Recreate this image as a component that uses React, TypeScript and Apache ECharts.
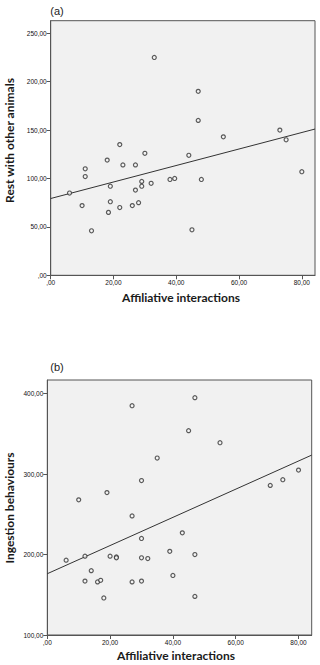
import React, { useEffect, useRef } from "react";
import * as echarts from "echarts";

// ---- data ----
const X_TICKS = [0, 20, 40, 60, 80];
const REST_Y_TICKS = [0, 50, 100, 150, 200, 250];
const INGEST_Y_TICKS = [100, 200, 300, 400];

const X_MAX = 84.2;
const REST_MIN = 0;
const REST_MAX = 263;
const INGEST_MIN = 100;
const INGEST_MAX = 417;

const affiliativeA = [33, 47, 47, 55, 73, 75, 22, 30, 18, 23, 27, 44, 11, 80, 11, 6, 19, 27, 29, 29, 32, 38, 39.5, 48, 10, 19, 18.4, 22, 26, 28, 13, 45];
const restWithOthers = [225, 190, 160, 143, 150, 140, 135, 126, 119, 114, 114, 124, 110, 107, 102, 85, 92, 88, 97, 92, 95, 99, 100, 99, 72, 76, 65, 70, 72, 75, 46, 47];

const affiliativeB = [27, 47, 45, 55, 35, 30, 19, 71, 75, 80, 10, 27, 43, 30, 6, 12, 20, 22, 22, 30, 32, 39, 47, 14, 12, 16, 17, 27, 30, 40, 18, 47];
const ingestion = [385, 395, 354, 339, 320, 292, 277, 286, 293, 305, 268, 248, 227, 220, 193, 198, 198, 197, 196, 196, 195, 204, 200, 180, 167, 166, 168, 166, 167, 174, 146, 148];

const PANEL_LABELS = ["(a)", "(b)"];
const X_NAME = "Affiliative interactions";
const Y_NAMES = ["Rest with other animals", "Ingestion behaviours"];

function fit(xs: number[], ys: number[]) {
  const n = xs.length;
  const mx = xs.reduce((a, b) => a + b, 0) / n;
  const my = ys.reduce((a, b) => a + b, 0) / n;
  let sxy = 0, sxx = 0;
  for (let i = 0; i < n; i++) {
    sxy += (xs[i] - mx) * (ys[i] - my);
    sxx += (xs[i] - mx) * (xs[i] - mx);
  }
  const slope = sxy / sxx;
  return { slope, intercept: my - slope * mx };
}

const fmt = (v: number) => (v === 0 ? ",00" : `${Math.round(v)},00`);

export default function App() {
  const ref = useRef<HTMLDivElement>(null);
  useEffect(() => {
    if (!ref.current) return;
    const chart = echarts.init(ref.current, null, { renderer: "svg" });
    const fa = fit(affiliativeA, restWithOthers);
    const fb = fit(affiliativeB, ingestion);
    const tickFont = { fontFamily: "Liberation Sans", fontSize: 6.5, color: "#111" };
    const axisLine = { show: true, lineStyle: { color: "#555", width: 1 } };
    const axisTick = { show: true, length: 4, lineStyle: { color: "#555", width: 1 } };
    const nameStyle = { fontFamily: "Lato", fontWeight: "bold", fontSize: 12, fill: "#1a1a1a" };
    const xAxisBase = (gi: number) => ({
      type: "value",
      gridIndex: gi,
      min: 0,
      max: X_MAX,
      axisLine,
      axisTick: { ...axisTick, customValues: X_TICKS },
      axisLabel: { ...tickFont, margin: 4, customValues: X_TICKS, formatter: fmt },
      splitLine: { show: false },
    });
    const scatterStyle = {
      type: "scatter",
      symbol: "circle",
      symbolSize: 4,
      itemStyle: { color: "#f6f6f6", borderColor: "#333", borderWidth: 1.2 },
      z: 3,
    };
    const lineStyle = {
      type: "line",
      showSymbol: false,
      symbol: "none",
      lineStyle: { color: "#333", width: 1 },
      z: 2,
    };
    chart.setOption({
      animation: false,
      grid: [
        { left: 50.7, top: 20.7, width: 264.3, height: 254.6, show: true, backgroundColor: "#f1f1f1", borderColor: "#555", borderWidth: 1 },
        { left: 47.3, top: 380, width: 264.4, height: 255, show: true, backgroundColor: "#f1f1f1", borderColor: "#555", borderWidth: 1 },
      ],
      xAxis: [xAxisBase(0), xAxisBase(1)],
      yAxis: [
        {
          type: "value", gridIndex: 0, min: REST_MIN, max: REST_MAX,
          axisLine, axisTick: { ...axisTick, customValues: REST_Y_TICKS },
          axisLabel: { ...tickFont, margin: 4, customValues: REST_Y_TICKS, formatter: fmt },
          splitLine: { show: false },
        },
        {
          type: "value", gridIndex: 1, min: INGEST_MIN, max: INGEST_MAX,
          axisLine, axisTick: { ...axisTick, customValues: INGEST_Y_TICKS },
          axisLabel: { ...tickFont, margin: 4, customValues: INGEST_Y_TICKS, formatter: fmt },
          splitLine: { show: false },
        },
      ],
      series: [
        { ...lineStyle, xAxisIndex: 0, yAxisIndex: 0, data: [[0, fa.intercept], [X_MAX, fa.intercept + fa.slope * X_MAX]] },
        { ...scatterStyle, xAxisIndex: 0, yAxisIndex: 0, data: affiliativeA.map((x, i) => [x, restWithOthers[i]]) },
        { ...lineStyle, xAxisIndex: 1, yAxisIndex: 1, data: [[0, fb.intercept], [X_MAX, fb.intercept + fb.slope * X_MAX]] },
        { ...scatterStyle, xAxisIndex: 1, yAxisIndex: 1, data: affiliativeB.map((x, i) => [x, ingestion[i]]) },
      ],
      graphic: [
        { type: "text", x: 57, y: 10.5, style: { text: PANEL_LABELS[0], fontFamily: "Liberation Sans", fontSize: 11, fill: "#222", textAlign: "center", textVerticalAlign: "middle" } },
        { type: "text", x: 57, y: 367, style: { text: PANEL_LABELS[1], fontFamily: "Liberation Sans", fontSize: 11, fill: "#222", textAlign: "center", textVerticalAlign: "middle" } },
        { type: "text", x: 181, y: 297.7, style: { ...nameStyle, text: X_NAME, textAlign: "center", textVerticalAlign: "middle" } },
        { type: "text", x: 176, y: 655.7, style: { ...nameStyle, text: X_NAME, textAlign: "center", textVerticalAlign: "middle" } },
        { type: "text", x: 9.5, y: 140.5, rotation: Math.PI / 2, style: { ...nameStyle, text: Y_NAMES[0], textAlign: "center", textVerticalAlign: "middle" } },
        { type: "text", x: 9.5, y: 508, rotation: Math.PI / 2, style: { ...nameStyle, text: Y_NAMES[1], textAlign: "center", textVerticalAlign: "middle" } },
      ],
    });
    return () => chart.dispose();
  }, []);
  return (
    <div
      ref={ref}
      style={{ position: "absolute", left: 0, top: 0, width: 320, height: 665, background: "#fff" }}
    />
  );
}
